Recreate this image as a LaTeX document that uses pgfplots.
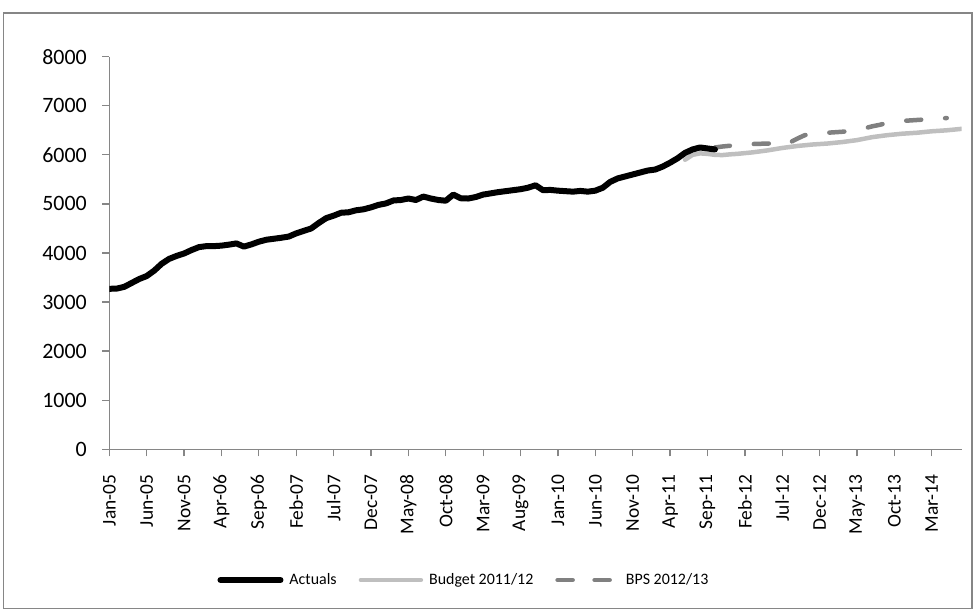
\documentclass[border=0pt]{standalone}
\usepackage{pgfplots}
\pgfplotsset{compat=1.18}
\usepackage{fontspec}
\setmainfont{Carlito}
\definecolor{axisgray}{HTML}{868686}
\definecolor{budgetc}{HTML}{BFBFBF}
\definecolor{bpsc}{HTML}{808080}
\begin{document}
\begin{tikzpicture}[x=1bp,y=1bp]
\useasboundingbox (0,0) rectangle (975,612);
\draw[axisgray, line width=1.3bp] (3.5,3.5) rectangle (972,599);
\begin{axis}[
  at={(109.3bp,162.7bp)}, anchor=south west,
  scale only axis, width=852.4bp, height=392.6bp,
  xmin=0, xmax=114, ymin=0, ymax=8000,
  axis x line=bottom, axis y line=left,
  axis line style={-, axisgray, line width=1.3bp},
  xtick={0,5,...,110},
  xticklabels={Jan-05,Jun-05,Nov-05,Apr-06,Sep-06,Feb-07,Jul-07,Dec-07,May-08,Oct-08,Mar-09,Aug-09,Jan-10,Jun-10,Nov-10,Apr-11,Sep-11,Feb-12,Jul-12,Dec-12,May-13,Oct-13,Mar-14},
  xticklabel style={rotate=90, anchor=east, xshift=-15bp, font=\fontsize{19.5}{22}\selectfont},
  ytick={0,1000,...,8000},
  yticklabel style={xshift=-12bp, font=\fontsize{22}{26}\selectfont},
  tick align=outside, major tick length=7bp,
  tick style={axisgray, line width=1.3bp},
  /pgf/number format/assume math mode=true,
  /pgf/number format/set thousands separator={},
  legend style={at={(0.416,-0.333)}, anchor=center, draw=none, fill=none,
    legend columns=3, font=\fontsize{16}{19}\selectfont,
    /tikz/every odd column/.append style={column sep=4bp},
    /tikz/every even column/.append style={column sep=20bp},
    cells={anchor=west}, inner sep=0pt},
  legend image code/.code={\draw[#1] (0bp,0bp) -- (60bp,0bp);},
  every axis plot/.append style={line cap=round, line join=round},
]
\addlegendimage{black, line width=6bp}
\addlegendentry{Actuals}
\addlegendimage{budgetc, line width=4.5bp}
\addlegendentry{Budget 2011/12}
\addlegendimage{bpsc, line width=4.5bp, dash pattern=on 15bp off 22bp}
\addlegendentry{BPS 2012/13}

\addplot[budgetc, line width=4.5bp, forget plot] coordinates {
(77,5900)(78,6000)(79,6030)(80,6020)(81,6000)(82,5995)(83,6010)(84,6020)(86,6050)(88,6090)(90,6140)(92,6180)(94,6210)(96,6230)(98,6260)(100,6300)(102,6360)(104,6400)(106,6430)(108,6450)(110,6480)(112,6500)(114,6530)};

\addplot[bpsc, line width=4.5bp, dash pattern=on 15bp off 24bp, forget plot] coordinates {
(81,6150)(82,6170)(84,6200)(86,6220)(88,6230)(89,6230)(90,6200)(91,6250)(92,6330)(93,6400)(94,6430)(96,6450)(98,6470)(100,6500)(102,6580)(103,6610)(104,6650)(106,6690)(108,6710)(110,6730)(112,6750)};

\addplot[black, line width=6bp, forget plot] coordinates {
(0,3270)(1,3275)(2,3310)(3,3390)(4,3470)(5,3530)(6,3640)(7,3780)(8,3880)(9,3940)
(10,3990)(11,4060)(12,4120)(13,4140)(14,4140)(15,4150)(16,4170)(17,4195)(18,4130)(19,4175)
(20,4230)(21,4270)(22,4290)(23,4310)(24,4335)(25,4400)(26,4450)(27,4500)(28,4610)(29,4710)
(30,4760)(31,4820)(32,4830)(33,4870)(34,4890)(35,4930)(36,4980)(37,5010)(38,5070)(39,5080)
(40,5110)(41,5080)(42,5150)(43,5110)(44,5080)(45,5065)(46,5190)(47,5115)(48,5110)(49,5140)
(50,5190)(51,5215)(52,5240)(53,5260)(54,5280)(55,5300)(56,5330)(57,5380)(58,5280)(59,5285)
(60,5270)(61,5260)(62,5250)(63,5265)(64,5250)(65,5270)(66,5330)(67,5450)(68,5520)(69,5560)
(70,5600)(71,5640)(72,5680)(73,5700)(74,5760)(75,5840)(76,5930)(77,6040)(78,6110)(79,6150)
(80,6130)(81,6110)};
\end{axis}
\end{tikzpicture}
\end{document}
